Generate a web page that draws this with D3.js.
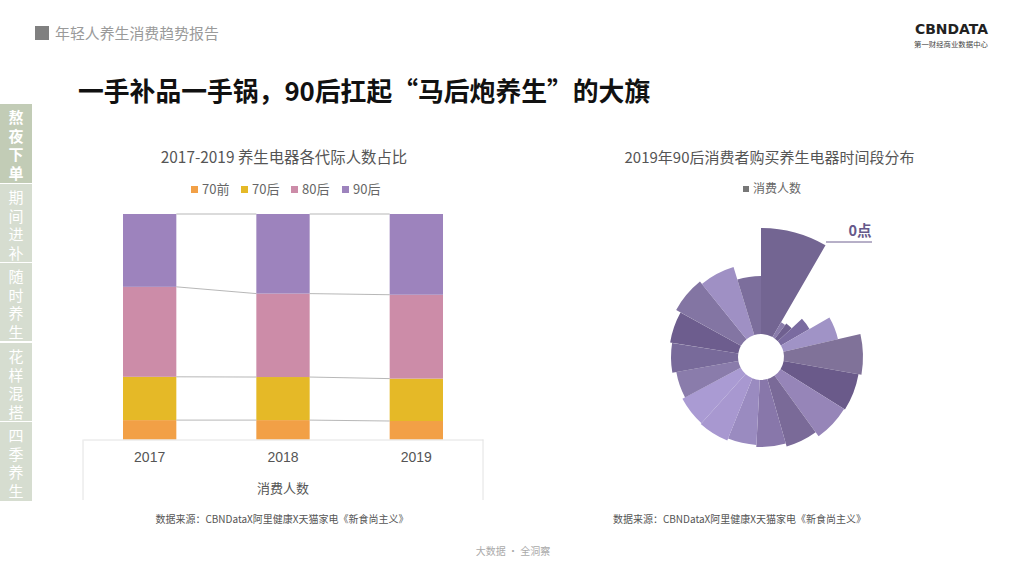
<!DOCTYPE html>
<html>
<head>
<meta charset="utf-8">
<script src="https://cdn.jsdelivr.net/npm/d3@7"></script>
<style>
	html, body { margin: 0; padding: 0; background: #fff; }
	svg { display: block; }
	text { font-family: "Noto Sans CJK SC", "Noto Sans", sans-serif; }
</style>
</head>
<body>
<svg id="chart" width="1024" height="576"></svg>
<script>
var years = [ '2017', '2018', '2019' ];
var generations = [ '70前', '70后', '80后', '90后' ];
var share70Before = [ 8.6, 8.6, 8.2 ];
var share70After = [ 19.2, 19.1, 18.8 ];
var share80After = [ 39.9, 37.0, 37.2 ];
var share90After = [ 32.3, 35.3, 35.8 ];
var generationColors = [ '#f2a046', '#e5b927', '#cc8ca8', '#9d83bd' ];

// rose chart, clockwise from 0点
var hourSpans = [ 30, 7, 10, 13, 17, 23, 22, 22, 20, 19, 19, 20, 20, 18, 19, 20, 22, 22, 17 ];
var hourRadii = [ 129, 40, 42, 56, 79, 102, 99, 98, 93, 90, 88, 90, 89, 86, 90, 92, 97, 94, 81 ];
var hourColors = [ '#736592', '#8a7cab', '#6f6090', '#7a6ba0', '#a093c6', '#807299', '#6a5a8a', '#9685b8', '#7a6a98', '#8877aa', '#9a8bc0', '#a898d0', '#aa9bd3', '#8a7cab', '#786a9a', '#6d5d8e', '#8375a3', '#9f90c4', '#7c6e9c' ];

var navItems = [ '熬夜下单', '期间进补', '随时养生', '花样混搭', '四季养生' ];
var navTops = [ 104, 184, 263, 343, 422 ];
var navBottoms = [ 183, 262, 341, 421, 501 ];

var sourceNote = '数据来源：CBNDataX阿里健康X天猫家电《新食尚主义》';

var svg = d3.select( '#chart' );

// page furniture
svg.append( 'rect' ).attr( 'x', 35 ).attr( 'y', 26 ).attr( 'width', 14 ).attr( 'height', 14 ).attr( 'fill', '#808080' );
svg.append( 'text' ).attr( 'x', 55 ).attr( 'y', 39 ).attr( 'font-size', 14.9 ).attr( 'fill', '#9a9a9a' ).text( '年轻人养生消费趋势报告' );
svg.append( 'text' ).attr( 'x', 78 ).attr( 'y', 101 ).attr( 'font-size', 25.8 ).attr( 'font-weight', 700 ).attr( 'fill', '#111' ).text( '一手补品一手锅，90后扛起“马后炮养生”的大旗' );
svg.append( 'text' ).attr( 'x', 915 ).attr( 'y', 33.5 ).attr( 'font-size', 13.3 ).attr( 'font-weight', 700 ).attr( 'fill', '#222' ).style( 'font-family', 'DejaVu Sans' ).attr( 'textLength', 73 ).attr( 'lengthAdjust', 'spacingAndGlyphs' ).text( 'CBNDATA' );
svg.append( 'text' ).attr( 'x', 914 ).attr( 'y', 47 ).attr( 'font-size', 7.4 ).attr( 'fill', '#444' ).text( '第一财经商业数据中心' );
svg.append( 'text' ).attr( 'x', 513 ).attr( 'y', 555 ).attr( 'font-size', 10 ).attr( 'text-anchor', 'middle' ).attr( 'fill', '#aaa' ).text( '大数据 · 全洞察' );

// side nav
navItems.forEach( function ( label, i ) {
	svg.append( 'rect' )
		.attr( 'x', 0 ).attr( 'y', navTops[ i ] )
		.attr( 'width', 32 ).attr( 'height', navBottoms[ i ] - navTops[ i ] )
		.attr( 'fill', i === 0 ? '#c2ccb6' : '#d6ddd0' );
	svg.append( 'text' )
		.attr( 'x', 16 )
		.attr( 'y', navTops[ i ] + 6 )
		.attr( 'font-size', 15 )
		.attr( 'font-weight', i === 0 ? 700 : 400 )
		.attr( 'fill', '#fff' )
		.style( 'writing-mode', 'vertical-rl' )
		.style( 'letter-spacing', '3.5px' )
		.text( label );
} );

// stacked bars
var x = d3.scaleBand().domain( years ).range( [ 83, 483 ] ).paddingInner( 0.6 ).paddingOuter( 0.3 );
var y = d3.scaleLinear().domain( [ 0, 100 ] ).range( [ 439.5, 214 ] );

var rows = years.map( function ( year, i ) {
	return { year: year, '70前': share70Before[ i ], '70后': share70After[ i ], '80后': share80After[ i ], '90后': share90After[ i ] };
} );
var stacked = d3.stack().keys( generations )( rows );

svg.append( 'g' ).selectAll( 'g' )
	.data( stacked )
	.enter().append( 'g' )
	.attr( 'fill', function ( d, i ) { return generationColors[ i ]; } )
	.selectAll( 'rect' )
	.data( function ( d ) { return d; } )
	.enter().append( 'rect' )
	.attr( 'x', function ( d ) { return x( d.data.year ); } )
	.attr( 'y', function ( d ) { return y( d[ 1 ] ); } )
	.attr( 'width', x.bandwidth() )
	.attr( 'height', function ( d ) { return y( d[ 0 ] ) - y( d[ 1 ] ); } );

// connectors between the bars
stacked.forEach( function ( layer ) {
	d3.pairs( layer ).forEach( function ( pair ) {
		svg.append( 'line' )
			.attr( 'x1', x( pair[ 0 ].data.year ) + x.bandwidth() )
			.attr( 'x2', x( pair[ 1 ].data.year ) )
			.attr( 'y1', y( pair[ 0 ][ 1 ] ) )
			.attr( 'y2', y( pair[ 1 ][ 1 ] ) )
			.attr( 'stroke', '#a5a5a5' )
			.attr( 'stroke-width', 0.8 );
	} );
} );

var axis = svg.append( 'g' )
	.attr( 'transform', 'translate(0,439.5)' )
	.call( d3.axisBottom( x ).tickSize( 0 ).tickPadding( 13 ) );
axis.select( '.domain' ).attr( 'stroke', '#e2e2e2' );
axis.selectAll( 'text' ).attr( 'font-size', 14 ).attr( 'fill', '#555' ).style( 'font-family', 'Liberation Sans' );

x.range().forEach( function ( edge ) {
	svg.append( 'line' )
		.attr( 'x1', edge ).attr( 'x2', edge )
		.attr( 'y1', 439.5 ).attr( 'y2', 500 )
		.attr( 'stroke', '#e2e2e2' );
} );

svg.append( 'text' ).attr( 'x', 283 ).attr( 'y', 493 ).attr( 'font-size', 13 ).attr( 'text-anchor', 'middle' ).attr( 'fill', '#555' ).text( '消费人数' );
svg.append( 'text' ).attr( 'x', 284 ).attr( 'y', 163 ).attr( 'font-size', 15.4 ).attr( 'text-anchor', 'middle' ).attr( 'fill', '#555' ).text( '2017-2019 养生电器各代际人数占比' );

// legend
var legendX = [ 191, 241, 291, 342 ];
generations.forEach( function ( name, i ) {
	svg.append( 'rect' ).attr( 'x', legendX[ i ] ).attr( 'y', 186 ).attr( 'width', 7 ).attr( 'height', 7 ).attr( 'fill', generationColors[ i ] );
	svg.append( 'text' ).attr( 'x', legendX[ i ] + 11 ).attr( 'y', 194 ).attr( 'font-size', 13 ).attr( 'fill', '#666' ).text( name );
} );

svg.append( 'text' ).attr( 'x', 282 ).attr( 'y', 523 ).attr( 'font-size', 10 ).attr( 'text-anchor', 'middle' ).attr( 'fill', '#555' ).text( sourceNote );
svg.append( 'text' ).attr( 'x', 739.5 ).attr( 'y', 523 ).attr( 'font-size', 10 ).attr( 'text-anchor', 'middle' ).attr( 'fill', '#555' ).text( sourceNote );

// rose
var rose = svg.append( 'g' ).attr( 'transform', 'translate(761,357)' );
var pie = d3.pie().value( function ( d ) { return d; } ).sort( null );
var radius = d3.scaleLinear().domain( [ 0, 129 ] ).range( [ 0, 129 ] );
var arc = d3.arc().innerRadius( 23 );

rose.selectAll( 'path' )
	.data( pie( hourSpans ) )
	.enter().append( 'path' )
	.attr( 'fill', function ( d, i ) { return hourColors[ i ]; } )
	.attr( 'd', function ( d, i ) {
		return arc.outerRadius( radius( hourRadii[ i ] ) )( d );
	} );

svg.append( 'line' ).attr( 'x1', 826 ).attr( 'x2', 872 ).attr( 'y1', 242 ).attr( 'y2', 242 ).attr( 'stroke', '#6f6090' );
svg.append( 'text' ).attr( 'x', 860 ).attr( 'y', 236 ).attr( 'font-size', 14.5 ).attr( 'font-weight', 700 ).attr( 'text-anchor', 'middle' ).attr( 'fill', '#65588a' ).text( '0点' );

svg.append( 'text' ).attr( 'x', 769.5 ).attr( 'y', 163 ).attr( 'font-size', 15 ).attr( 'text-anchor', 'middle' ).attr( 'fill', '#555' ).text( '2019年90后消费者购买养生电器时间段分布' );
svg.append( 'rect' ).attr( 'x', 743 ).attr( 'y', 186 ).attr( 'width', 6 ).attr( 'height', 6 ).attr( 'fill', '#777' );
svg.append( 'text' ).attr( 'x', 753 ).attr( 'y', 193 ).attr( 'font-size', 12 ).attr( 'fill', '#666' ).text( '消费人数' );
</script>
</body>
</html>
